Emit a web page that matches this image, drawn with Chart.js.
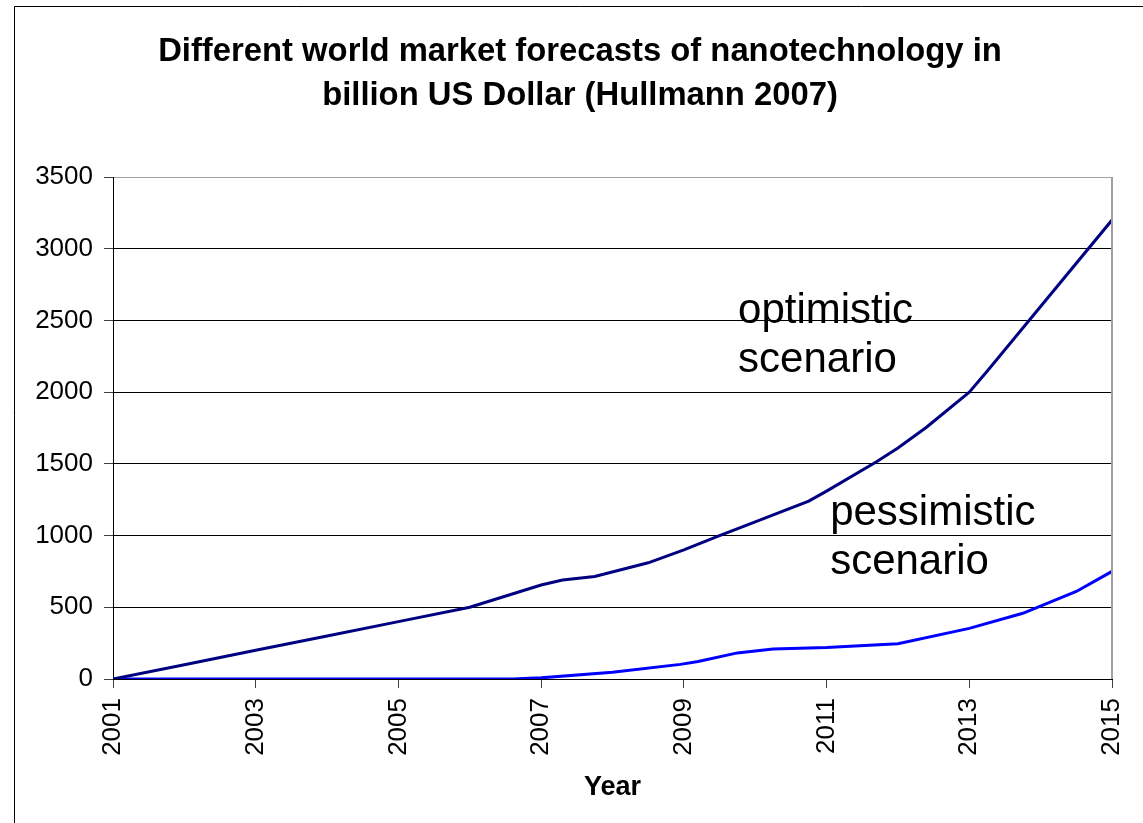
<!DOCTYPE html>
<html>
<head>
<meta charset="utf-8">
<script src="https://cdn.jsdelivr.net/npm/chart.js@4.4.0/dist/chart.umd.min.js"></script>
<style>
  html, body { margin: 0; padding: 0; background: #fff; }
  #wrap { width: 1143px; height: 823px; position: relative; }
</style>
</head>
<body>
<div id="wrap"><canvas id="c" width="1143" height="823"></canvas></div>
<script>
// ---- data ----
const titleLines = ["Different world market forecasts of nanotechnology in", "billion US Dollar (Hullmann 2007)"];
const xTitle = "Year";
const optimisticYears  = [2001, 2002, 2003, 2004, 2005, 2006, 2007, 2007.3, 2007.75, 2008.5, 2009, 2009.5, 2010, 2010.75, 2011, 2011.7, 2012, 2012.4, 2013, 2013.25, 2015];
const optimisticValues = [0,    100,  200,  300,  400,  500,  655,  690,    715,     810,    900,  1000,   1095, 1240,    1310, 1515,   1610, 1755,   2000, 2145,    3200];
const pessimisticYears  = [2001, 2006.6, 2007, 2008, 2008.95, 2009.2, 2009.75, 2010.25, 2011, 2012, 2013, 2013.75, 2014.5, 2015];
const pessimisticValues = [0,    0,      8,    47,   102,     122,    182,     209,     220,  246,  353,  458,     610,    750];
const yTicks = [0, 500, 1000, 1500, 2000, 2500, 3000, 3500];
const xTicks = [2001, 2003, 2005, 2007, 2009, 2011, 2013, 2015];
const annotations = [
  { lines: ["optimistic", "scenario"], x: 2009.76, y: 2483 },
  { lines: ["pessimistic", "scenario"], x: 2011.05, y: 1074 }
];

const toPts = (xs, ys) => xs.map((x, i) => ({ x: x, y: ys[i] }));

const decorPlugin = {
  id: 'decor',
  beforeDraw(chart) {
    const ctx = chart.ctx;
    ctx.save();
    ctx.fillStyle = '#fff';
    ctx.fillRect(0, 0, chart.width, chart.height);
    // outer frame (cropped on right/bottom)
    ctx.strokeStyle = '#000';
    ctx.lineWidth = 1;
    ctx.beginPath();
    ctx.moveTo(14.5, chart.height + 2);
    ctx.lineTo(14.5, 6.5);
    ctx.lineTo(chart.width + 2, 6.5);
    ctx.stroke();
    // title
    ctx.fillStyle = '#000';
    ctx.font = 'bold 32.8px "Liberation Sans", Arial, sans-serif';
    ctx.textAlign = 'center';
    ctx.textBaseline = 'alphabetic';
    ctx.fillText(titleLines[0], 580, 61);
    ctx.fillText(titleLines[1], 580, 105);
    ctx.restore();
  },
  afterDatasetsDraw(chart) {
    const ctx = chart.ctx;
    const xs = chart.scales.x, ys = chart.scales.y;
    ctx.save();
    // plot-area right border (grey)
    ctx.strokeStyle = '#a0a0a0';
    ctx.lineWidth = 2;
    ctx.beginPath();
    ctx.moveTo(chart.chartArea.right, chart.chartArea.top);
    ctx.lineTo(chart.chartArea.right, chart.chartArea.bottom);
    ctx.stroke();
    // annotations
    ctx.fillStyle = '#000';
    ctx.font = '42px "Liberation Sans", Arial, sans-serif';
    ctx.textAlign = 'left';
    ctx.textBaseline = 'alphabetic';
    annotations.forEach(a => {
      const px = xs.getPixelForValue(a.x);
      const py = ys.getPixelForValue(a.y);
      a.lines.forEach((t, i) => ctx.fillText(t, px, py + i * 49));
    });
    ctx.restore();
  }
};

new Chart(document.getElementById('c'), {
  type: 'line',
  data: {
    datasets: [
      {
        label: 'optimistic scenario',
        data: toPts(optimisticYears, optimisticValues),
        borderColor: '#000080',
        borderWidth: 3,
        pointRadius: 0,
        tension: 0,
        fill: false
      },
      {
        label: 'pessimistic scenario',
        data: toPts(pessimisticYears, pessimisticValues),
        borderColor: '#0000ff',
        borderWidth: 3,
        pointRadius: 0,
        tension: 0,
        fill: false
      }
    ]
  },
  plugins: [decorPlugin],
  options: {
    responsive: false,
    animation: false,
    devicePixelRatio: 1,
    layout: { padding: { left: 0, right: 31, top: 177, bottom: 0 } },
    plugins: {
      legend: { display: false },
      title: { display: false },
      tooltip: { enabled: false }
    },
    scales: {
      x: {
        type: 'linear',
        min: 2001,
        max: 2015,
        afterBuildTicks: (s) => { s.ticks = xTicks.map(v => ({ value: v })); },
        afterFit: (s) => { s.height = 144; s.paddingLeft = 0; s.paddingRight = 0; },
        ticks: {
          color: '#000',
          font: { family: '"Liberation Sans", Arial, sans-serif', size: 26 },
          minRotation: 90,
          maxRotation: 90,
          padding: 10,
          callback: (v) => String(v)
        },
        grid: {
          drawOnChartArea: false,
          drawTicks: true,
          tickLength: 9,
          tickColor: '#404040'
        },
        border: { display: true, color: '#000', width: 1 },
        title: {
          display: true,
          text: xTitle,
          color: '#000',
          font: { family: '"Liberation Sans", Arial, sans-serif', size: 27, weight: 'bold' },
          padding: { top: 0, bottom: 19 }
        }
      },
      y: {
        type: 'linear',
        min: 0,
        max: 3500,
        afterBuildTicks: (s) => { s.ticks = yTicks.map(v => ({ value: v })); },
        afterFit: (s) => { s.width = 113; s.paddingTop = 0; s.paddingBottom = 0; },
        ticks: {
          color: '#000',
          font: { family: '"Liberation Sans", Arial, sans-serif', size: 26 },
          padding: 11,
          callback: (v) => String(v)
        },
        grid: {
          color: (c) => (c.tick && c.tick.value === 3500) ? '#a0a0a0' : '#000',
          lineWidth: 1,
          drawTicks: true,
          tickLength: 9,
          tickColor: '#404040'
        },
        border: { display: true, color: '#000', width: 1 }
      }
    }
  }
});
</script>
</body>
</html>
